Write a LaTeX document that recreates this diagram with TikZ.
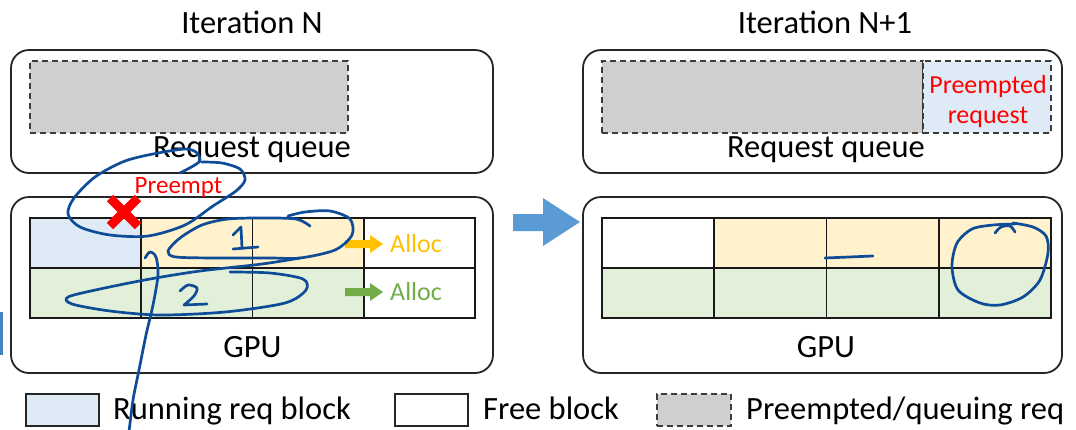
\documentclass[tikz,border=0pt]{standalone}
\usepackage{fontspec}
\setmainfont{Carlito}
\definecolor{qgray}{HTML}{D0CECE}
\definecolor{runblue}{HTML}{DEEBF7}
\definecolor{cellyellow}{HTML}{FFF2CC}
\definecolor{cellgreen}{HTML}{E2F0D9}
\definecolor{allocgold}{HTML}{FFC000}
\definecolor{allocgreen}{HTML}{70AD47}
\definecolor{flowblue}{HTML}{5B9BD5}
\definecolor{ink}{HTML}{0F4C97}
\definecolor{edge}{HTML}{262626}
\begin{document}
\begin{tikzpicture}[x=1pt,y=-1pt,
  panel/.style={draw=edge, line width=1.8pt, rounded corners=18pt, inner sep=0pt, outer sep=0pt},
  queued/.style={draw=edge!90, dash pattern=on 6pt off 4pt, line width=1.4pt, inner sep=0pt, outer sep=0pt},
  cell/.style={draw=black!90, line width=1.8pt, minimum width=#1, minimum height=50pt, inner sep=0pt, outer sep=0pt},
  swatch/.style={draw=edge, line width=1.4pt, minimum width=73pt, minimum height=32pt, inner sep=0pt},
  bigtext/.style={font=\fontsize{32.5}{38}\selectfont, inner sep=0pt, anchor=base},
  redtext/.style={font=\fontsize{25}{30}\selectfont, text=red, inner sep=0pt, anchor=base},
  alloctext/.style={font=\fontsize{26}{30}\selectfont, inner sep=0pt, anchor=base west},
  pen/.style={draw=ink, line width=2.7pt, line cap=round, line join=round}]
\useasboundingbox (0,0) rectangle (1076,429);

% ---------- titles ----------
\node[bigtext] (tN)  at (252,33) {Iteration N};
\node[bigtext] (tN1) at (825,33) {Iteration N+1};

% ---------- request queues ----------
\node[panel, minimum width=482pt, minimum height=123pt] (qN)  at (252,111.5) {};
\node[panel, minimum width=479pt, minimum height=123pt] (qN1) at (822.5,111.5) {};
\node[queued, fill=qgray, minimum width=318pt, minimum height=72pt] (waitN) at (189,97) {};
\node[queued, fill=qgray, minimum width=321pt, minimum height=72pt] (waitN1) at (762.5,97) {};
\node[queued, fill=runblue, minimum width=128pt, minimum height=72pt] (pre) at (987,97) {};
\node[redtext, font=\fontsize{26}{30}\selectfont] (preA) at (988,93) {Preempted};
\node[redtext, font=\fontsize{26}{30}\selectfont] (preB) at (988,123) {request};
\node[bigtext] (rqN)  at (252,157) {Request queue};
\node[bigtext] (rqN1) at (826,157) {Request queue};

% ---------- GPU panels ----------
\node[panel, minimum width=482pt, minimum height=176pt] (gN)  at (252,285) {};
\node[panel, minimum width=479pt, minimum height=176pt] (gN1) at (822.5,285) {};

% block grid, iteration N
\foreach \c/\col in {0/runblue,1/cellyellow,2/cellyellow,3/white}
  \node[cell=111.25pt, fill=\col] (a\c) at ({30+111.25*(\c+0.5)},243) {};
\foreach \c/\col in {0/cellgreen,1/cellgreen,2/cellgreen,3/white}
  \node[cell=111.25pt, fill=\col] (b\c) at ({30+111.25*(\c+0.5)},293) {};
% block grid, iteration N+1
\foreach \c/\col in {0/white,1/cellyellow,2/cellyellow,3/cellyellow}
  \node[cell=112.25pt, fill=\col] (c\c) at ({602+112.25*(\c+0.5)},243) {};
\foreach \c in {0,1,2,3}
  \node[cell=112.25pt, fill=cellgreen] (d\c) at ({602+112.25*(\c+0.5)},293) {};

\node[bigtext] (gpuN)  at (252.5,357) {GPU};
\node[bigtext] (gpuN1) at (826,357) {GPU};

% allocation arrows
\fill[allocgold] (345,240) -- (370,240) -- (370,235) -- (383,244) -- (370,253) -- (370,248) -- (345,248) -- cycle;
\fill[allocgreen] (345,288) -- (370,288) -- (370,283) -- (383,292) -- (370,301) -- (370,296) -- (345,296) -- cycle;
\node[alloctext, text=allocgold]  (allocA) at (390,252) {Alloc};
\node[alloctext, text=allocgreen] (allocB) at (390,300) {Alloc};

% preemption mark
\node[redtext] (preempt) at (178.5,193) {Preempt};
\draw[red, line width=9pt] (110,198) -- (138,226) (110,226) -- (138,198);

% step arrow between iterations
\fill[flowblue] (513,214) -- (543,214) -- (543,198) -- (580,222) -- (543,246) -- (543,231) -- (513,231) -- cycle;

% ---------- legend ----------
\node[swatch, fill=runblue] (kRun) at (62.5,410) {};
\node[bigtext, anchor=base west] (kRunT) at (113,419) {Running req block};
\node[swatch, fill=white] (kFree) at (431.5,410) {};
\node[bigtext, anchor=base west] (kFreeT) at (483,419) {Free block};
\node[queued, fill=qgray, minimum width=74pt, minimum height=32pt] (kWait) at (694,410) {};
\node[bigtext, anchor=base west] (kWaitT) at (746,419) {Preempted/queuing req};

% left edge strip
\fill[flowblue!70!ink] (0,312) rectangle (2.5,355);

% ---------- pen annotations ----------
\draw[pen] plot[smooth] coordinates {(180,173) (199,162) (197,153) (186,149) (158,153) (125,161) (95,177) (74,198) (68,214) (80,227) (110,235) (148,236) (185,225) (213,206) (236,191) (245,180) (240,169) (222,163) (202,162)};
\draw[pen] plot[smooth] coordinates {(310,226) (296,219) (262,218) (228,219) (202,225) (180,238) (168,251) (176,257) (220,258) (270,258) (300,258) (335,250) (352,235) (350,219) (330,211) (305,212) (288,216)};
\draw[pen] plot[smooth] coordinates {(300,258) (262,264) (200,271) (150,279) (100,289) (68,297) (72,304) (110,311) (160,315) (225,312) (285,303) (306,290) (303,279) (270,273) (230,272)};
\draw[pen] (233,235) -- (241,227) -- (242,248);
\draw[pen] (233,249) -- (258,247);
\draw[pen] plot[smooth] coordinates {(180,291) (188,285) (197,288) (194,296) (184,305)} -- (207,304);
\draw[pen] plot[smooth] coordinates {(145,258) (150,252) (156,257) (158,275) (153,305) (146,335) (139,370) (133,400) (129,432)};
\draw[pen] (825,258) -- (873,256);
\draw[pen] plot[smooth] coordinates {(1015,224) (993,225) (972,229) (957,243) (952,266) (958,290) (980,303) (1000,305) (1023,297) (1040,280) (1048,253) (1046,236) (1033,227) (1013,223)};
\draw[pen] plot[smooth] coordinates {(995,233) (1001,227) (1010,226) (1015,232)};
\end{tikzpicture}
\end{document}
